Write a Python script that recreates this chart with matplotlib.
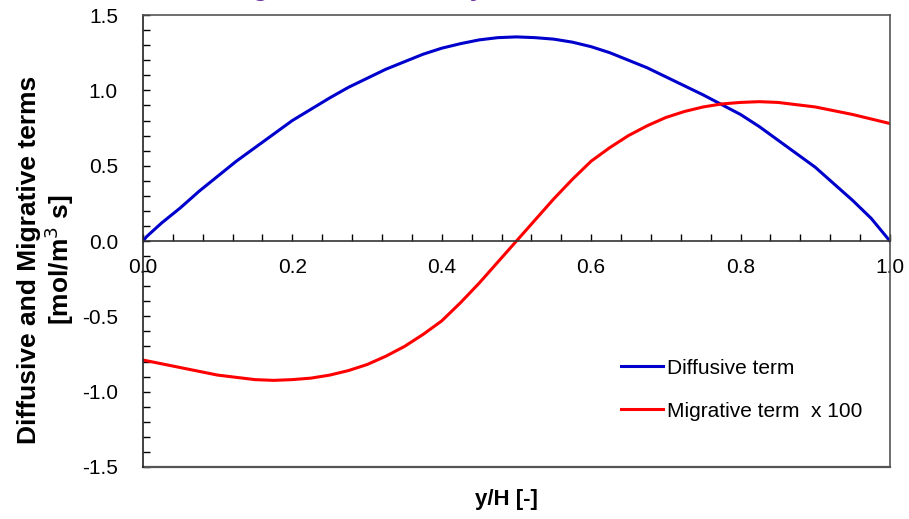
import matplotlib
matplotlib.use("Agg")
import matplotlib.pyplot as plt
from matplotlib.ticker import MultipleLocator

plt.rcParams['font.family'] = ['Liberation Sans', 'DejaVu Sans']

# y/H positions and values
x_dif = [0.0, 0.005, 0.025, 0.05, 0.075, 0.1, 0.125, 0.15, 0.175, 0.2, 0.225, 0.25,
         0.275, 0.3, 0.325, 0.35, 0.375, 0.4, 0.425, 0.45, 0.475, 0.5, 0.525, 0.55,
         0.575, 0.6, 0.625, 0.65, 0.675, 0.7, 0.725, 0.75, 0.775, 0.8, 0.825, 0.85,
         0.875, 0.9, 0.925, 0.95, 0.975, 0.995, 1.0]
diffusive = [0.0, 0.03, 0.12, 0.22, 0.33, 0.43, 0.53, 0.62, 0.71, 0.80, 0.875, 0.95,
             1.02, 1.08, 1.14, 1.19, 1.24, 1.28, 1.31, 1.335, 1.35, 1.355, 1.35, 1.34,
             1.32, 1.29, 1.25, 1.20, 1.15, 1.09, 1.03, 0.97, 0.905, 0.84, 0.76, 0.67,
             0.58, 0.49, 0.38, 0.27, 0.15, 0.03, 0.0]

x_mig = [0.0, 0.025, 0.05, 0.075, 0.1, 0.125, 0.15, 0.175, 0.2, 0.225, 0.25, 0.275,
         0.3, 0.325, 0.35, 0.375, 0.4, 0.425, 0.45, 0.475, 0.5, 0.525, 0.55, 0.575,
         0.6, 0.625, 0.65, 0.675, 0.7, 0.725, 0.75, 0.775, 0.8, 0.825, 0.85, 0.875,
         0.9, 0.925, 0.95, 0.975, 1.0]
migrative = [-0.79, -0.815, -0.84, -0.865, -0.89, -0.905, -0.92, -0.925, -0.92, -0.91,
             -0.89, -0.86, -0.82, -0.765, -0.70, -0.62, -0.53, -0.41, -0.28, -0.14,
             0.0, 0.14, 0.28, 0.41, 0.53, 0.62, 0.70, 0.765, 0.82, 0.86, 0.89, 0.91,
             0.92, 0.925, 0.92, 0.905, 0.89, 0.865, 0.84, 0.81, 0.78]

fig = plt.figure(figsize=(9.09, 5.19), dpi=100)
ax = fig.add_axes([0.1573, 0.1002, 0.8217, 0.8708])

ax.plot(x_dif, diffusive, color='#0000CC', lw=2.2, label='Diffusive term')
ax.plot(x_mig, migrative, color='#FF0000', lw=2.2, label='Migrative term  x 100')

ax.set_xlim(0, 1.0)
ax.set_ylim(-1.5, 1.5)

# x axis sits on y = 0, plot box drawn in gray
ax.spines['bottom'].set_position(('data', 0))
ax.spines['bottom'].set_color('#333333')
ax.spines['left'].set_color('#222222')
ax.spines['top'].set_color('#555555')
ax.spines['right'].set_color('#555555')
ax.axhline(-1.5, color='#555555', lw=1.6, clip_on=False)
for s in ax.spines.values():
    s.set_linewidth(1.2)

ax.xaxis.set_major_locator(MultipleLocator(0.2))
ax.xaxis.set_minor_locator(MultipleLocator(0.04))
ax.yaxis.set_major_locator(MultipleLocator(0.5))
ax.yaxis.set_minor_locator(MultipleLocator(0.1))
ax.xaxis.set_major_formatter(plt.FuncFormatter(lambda v, p: f"{v:.1f}"))
ax.yaxis.set_major_formatter(plt.FuncFormatter(lambda v, p: f"{v:.1f}"))

ax.tick_params(axis='x', which='both', direction='in', length=5, width=1,
               labelsize=15, pad=12)
ax.tick_params(axis='y', which='both', direction='in', length=5, width=1,
               labelsize=15, pad=18)

ax.set_ylabel('Diffusive and Migrative terms\n[mol/m$^3$ s]', fontsize=19,
              fontweight='bold', linespacing=1.05)
ax.yaxis.set_label_coords(-0.09, 0.458)
ax.set_xlabel('y/H [-]', fontsize=16, fontweight='bold')
ax.xaxis.set_label_coords(0.487, -0.073)
ax.xaxis.label.set_va('center')

ax.legend(loc='center left', bbox_to_anchor=(0.615, 0.171), frameon=False,
          fontsize=15, handlelength=2.0, handletextpad=0.2, labelspacing=1.15)

fig.text(0.055, 1.008, 'Diffusive and Migrative terms vs. y/H', color='#7030A0',
         fontsize=19, fontweight='bold', ha='left', va='baseline')

fig.savefig('out.png', dpi=100)
